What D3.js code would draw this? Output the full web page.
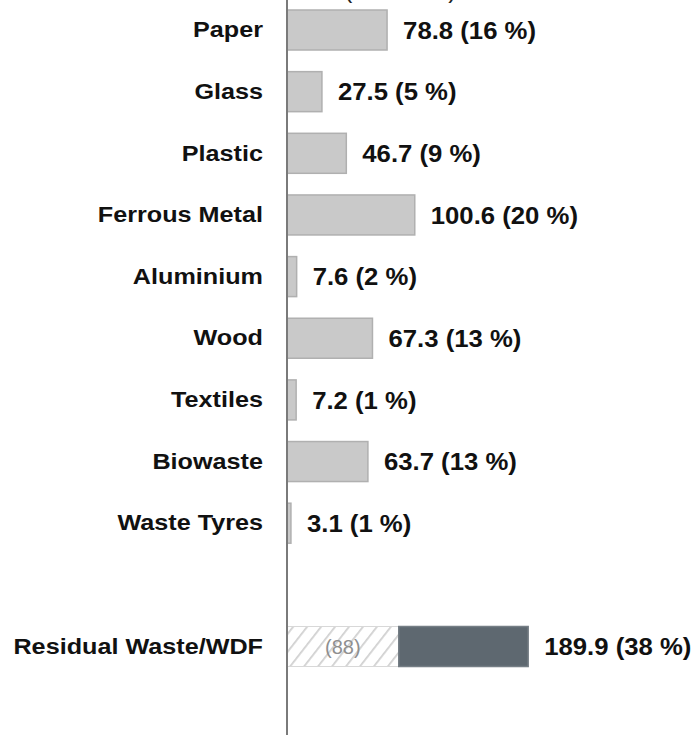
<!DOCTYPE html>
<html>
<head>
<meta charset="utf-8">
<script src="https://cdn.jsdelivr.net/npm/d3@7"></script>
<style>
  html, body { margin: 0; padding: 0; background: #fff; }
  svg { display: block; }
</style>
</head>
<body>
<svg id="chart" width="692" height="735"></svg>
<script>
// Waste streams, amount in 1000 t with share of total
const categories = ["Paper", "Glass", "Plastic", "Ferrous Metal", "Aluminium", "Wood",
                    "Textiles", "Biowaste", "Waste Tyres", "", "Residual Waste/WDF"];
const amounts = [78.8, 27.5, 46.7, 100.6, 7.6, 67.3, 7.2, 63.7, 3.1, null, 189.9];
const shares = [16, 5, 9, 20, 2, 13, 1, 13, 1, null, 38];
// part of the residual stream shown as hatched segment
const residualSub = 88;
const headerText = "(in 1000 t)";

const W = 692, H = 735;
const axisX = 287;
const font = "Liberation Sans, Arial, sans-serif";
const svg = d3.select("#chart");

const defs = svg.append("defs");
const pat = defs.append("pattern")
  .attr("id", "hatch")
  .attr("patternUnits", "userSpaceOnUse")
  .attr("width", 11).attr("height", 11)
  .attr("patternTransform", "rotate(38)");
pat.append("rect").attr("width", 11).attr("height", 11).attr("fill", "#fff");
pat.append("line").attr("x1", 0).attr("y1", 0).attr("x2", 0).attr("y2", 11)
  .attr("stroke", "#d0d0d0").attr("stroke-width", 3.5);

const x = d3.scaleLinear().domain([0, 200]).range([axisX, axisX + 254]);

const step = 61.65, pad = 0.351;
const y0 = 10 - pad * step / 2;
const y = d3.scaleBand()
  .domain(categories.map(c => c === "" ? "_gap" : c))
  .range([y0, y0 + categories.length * step])
  .paddingInner(pad).paddingOuter(pad / 2);

const rows = categories.map((c, i) => ({
  key: c === "" ? "_gap" : c, name: c, value: amounts[i], share: shares[i]
})).filter(d => d.value !== null);

const plain = rows.filter(d => d.name !== "Residual Waste/WDF");
const resid = rows.find(d => d.name === "Residual Waste/WDF");

// header, mostly above the visible area
svg.append("text")
  .attr("x", 344).attr("y", -2)
  .attr("font-family", font)
  .attr("font-size", 25)
  .attr("fill", "#222")
  .text(headerText);

// light grey bars
svg.append("g").selectAll("rect").data(plain).join("rect")
  .attr("x", x(0))
  .attr("y", d => y(d.key))
  .attr("width", d => x(d.value) - x(0))
  .attr("height", y.bandwidth())
  .attr("fill", "#c9c9c9")
  .attr("stroke", "#b0b0b0")
  .attr("stroke-width", 1.5);

// residual: hatched sub-part plus dark remainder
const ry = y(resid.key);
svg.append("rect")
  .attr("x", x(0)).attr("y", ry)
  .attr("width", x(residualSub) - x(0)).attr("height", y.bandwidth())
  .attr("fill", "url(#hatch)")
  .attr("stroke", "#d8d8d8").attr("stroke-width", 1);
svg.append("rect")
  .attr("x", x(residualSub)).attr("y", ry)
  .attr("width", x(resid.value) - x(residualSub)).attr("height", y.bandwidth())
  .attr("fill", "#5e6870")
  .attr("stroke", "#757e85").attr("stroke-width", 1.5);
svg.append("text")
  .attr("x", (x(0) + x(residualSub)) / 2)
  .attr("y", ry + y.bandwidth() / 2)
  .attr("dy", "0.35em")
  .attr("text-anchor", "middle")
  .attr("font-family", font)
  .attr("font-size", 20)
  .attr("fill", "#8f8f8f")
  .text(`(${residualSub})`);

// value labels
svg.append("g").selectAll("text").data(rows).join("text")
  .attr("transform", d => `translate(${x(d.value) + 16},${y(d.key) + y.bandwidth() / 2}) scale(1.05,1)`)
  .attr("dy", "0.36em")
  .attr("font-family", font)
  .attr("font-weight", "bold")
  .attr("font-size", 24.5)
  .attr("fill", "#111")
  .text(d => `${d.value.toFixed(1)} (${d.share} %)`);

// category axis
const axis = d3.axisLeft(y).tickSize(0).tickPadding(0)
  .tickFormat(k => k === "_gap" ? "" : k);
const ag = svg.append("g").attr("transform", `translate(${axisX},0)`).call(axis);
ag.select(".domain").remove();
ag.selectAll("text")
  .attr("x", 0)
  .attr("transform", "translate(-24,0) scale(1.12,1)")
  .attr("font-family", font)
  .attr("font-weight", "bold")
  .attr("font-size", 22.5)
  .attr("fill", "#111");

svg.append("line")
  .attr("x1", axisX).attr("x2", axisX)
  .attr("y1", 0).attr("y2", H)
  .attr("stroke", "#7a7a7a").attr("stroke-width", 2);
</script>
</body>
</html>
